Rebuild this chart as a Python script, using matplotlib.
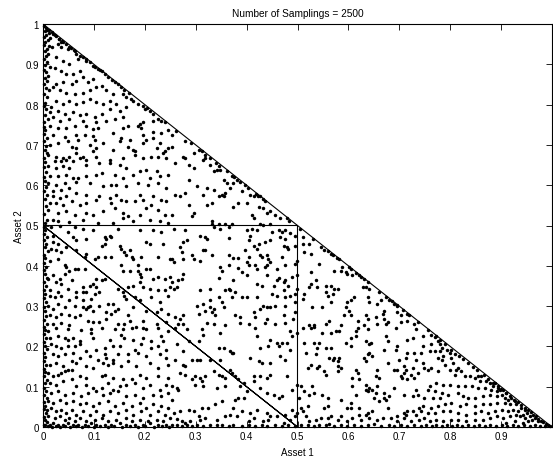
import matplotlib
matplotlib.use('Agg')
import matplotlib.pyplot as plt
import numpy as np

plt.rcParams.update({
    'font.family': ['Liberation Sans', 'DejaVu Sans'],
    'font.size': 7, 'axes.titlesize': 7.3, 'axes.labelsize': 7,
    'xtick.labelsize': 7, 'ytick.labelsize': 7,
})

# sampled weights (Asset 1, Asset 2), estimated from the picture region by region
pts_top = [
    (0.020,0.975),(0.025,0.971),(0.032,0.963),(0.040,0.955),(0.046,0.950),(0.035,0.955),(0.029,0.950),(0.018,0.942),
    (0.036,0.942),(0.049,0.938),(0.055,0.941),(0.062,0.934),(0.065,0.926),(0.072,0.921),(0.079,0.917),(0.069,0.913),
    (0.085,0.909),(0.092,0.905),(0.098,0.897),(0.102,0.893),(0.108,0.889),(0.115,0.884),(0.121,0.876),(0.128,0.868),
    (0.136,0.861),(0.141,0.855),(0.147,0.851),(0.154,0.843),(0.160,0.835),(0.157,0.826),(0.164,0.818),(0.172,0.814),
    (0.177,0.810),(0.187,0.801),(0.196,0.797),(0.200,0.789),(0.210,0.785),(0.216,0.777),(0.226,0.764),(0.232,0.760),
    (0.216,0.760),(0.196,0.756),(0.190,0.752),(0.026,0.917),(0.039,0.909),(0.052,0.901),(0.023,0.892),(0.036,0.884),
    (0.046,0.876),(0.059,0.876),(0.072,0.884),(0.079,0.868),(0.065,0.859),(0.056,0.851),(0.039,0.855),(0.026,0.851),
    (0.020,0.843),(0.033,0.835),(0.046,0.830),(0.062,0.826),(0.079,0.830),(0.092,0.835),(0.105,0.843),(0.115,0.847),
    (0.088,0.855),(0.098,0.864),(0.124,0.835),(0.138,0.826),(0.131,0.810),(0.118,0.801),(0.105,0.806),(0.092,0.814),
    (0.079,0.806),(0.065,0.801),(0.052,0.810),(0.039,0.801),(0.026,0.810),(0.016,0.793),(0.029,0.785),(0.043,0.777),
    (0.059,0.781),(0.072,0.773),(0.085,0.777),(0.102,0.768),(0.115,0.777),(0.131,0.789),(0.144,0.801),(0.151,0.785),
    (0.164,0.793),(0.157,0.768),(0.141,0.764),(0.124,0.760),(0.105,0.756),(0.079,0.760),(0.052,0.764),(0.033,0.760),
    (0.020,0.768),(0.013,0.781),
    (0.002,0.995),(0.005,0.990),(0.008,0.985),(0.003,0.982),(0.011,0.978),(0.006,0.972),(0.002,0.968),(0.014,0.965),
    (0.009,0.960),(0.004,0.955),(0.001,0.948),(0.012,0.945),(0.007,0.938),(0.003,0.932),(0.010,0.926),(0.005,0.920),
    (0.001,0.913),(0.008,0.906),(0.004,0.898),(0.013,0.893),(0.002,0.887),(0.006,0.880),(0.010,0.872),(0.003,0.866),
    (0.007,0.858),(0.001,0.850),(0.005,0.842),(0.011,0.835),(0.002,0.826),(0.008,0.818),(0.004,0.805),(0.001,0.797),
    (0.006,0.788),(0.003,0.775),(0.009,0.765),(0.002,0.756),(0.012,0.986),(0.018,0.980),(0.024,0.972),(0.031,0.962),
    (0.038,0.958),(0.052,0.944),(0.060,0.936),(0.085,0.912),(0.112,0.885),(0.168,0.828),(0.205,0.792),(0.240,0.758),
]

pts_upper_left = [
    (0.013,0.746),(0.029,0.743),(0.046,0.742),(0.062,0.746),(0.085,0.748),(0.098,0.740),(0.108,0.743),(0.138,0.729),
    (0.157,0.742),(0.167,0.748),(0.187,0.748),(0.193,0.742),(0.216,0.733),(0.232,0.729),(0.246,0.738),(0.020,0.725),
    (0.043,0.719),(0.065,0.725),(0.069,0.713),(0.082,0.725),(0.098,0.721),(0.102,0.713),(0.154,0.717),(0.170,0.713),
    (0.196,0.725),(0.203,0.713),(0.216,0.717),(0.229,0.705),(0.013,0.700),(0.029,0.705),(0.049,0.709),(0.056,0.696),
    (0.065,0.692),(0.092,0.700),(0.105,0.692),(0.118,0.705),(0.138,0.688),(0.151,0.709),(0.167,0.696),(0.177,0.688),
    (0.196,0.705),(0.223,0.692),(0.246,0.692),(0.239,0.684),(0.010,0.676),(0.026,0.671),(0.039,0.667),(0.052,0.671),
    (0.065,0.680),(0.079,0.671),(0.098,0.684),(0.105,0.671),(0.131,0.663),(0.157,0.667),(0.180,0.684),(0.180,0.676),
    (0.196,0.667),(0.213,0.671),(0.226,0.671),(0.236,0.680),(0.242,0.667),(0.023,0.659),(0.036,0.659),(0.046,0.663),
    (0.059,0.659),(0.072,0.667),(0.085,0.663),(0.010,0.647),(0.026,0.642),(0.039,0.647),(0.052,0.642),(0.085,0.651),
    (0.111,0.655),(0.131,0.655),(0.151,0.651),(0.164,0.642),(0.190,0.634),(0.203,0.638),(0.223,0.634),(0.246,0.626),
    (0.013,0.622),(0.029,0.622),(0.046,0.626),(0.059,0.618),(0.069,0.618),(0.085,0.622),(0.105,0.626),(0.115,0.630),
    (0.141,0.626),(0.157,0.618),(0.177,0.626),(0.210,0.618),(0.229,0.622),(0.010,0.605),(0.026,0.601),(0.043,0.605),
    (0.065,0.609),(0.092,0.605),(0.118,0.597),(0.134,0.601),(0.144,0.601),(0.164,0.597),(0.187,0.605),(0.206,0.601),
    (0.226,0.605),(0.242,0.593),(0.020,0.585),(0.036,0.589),(0.052,0.593),(0.007,0.576),(0.020,0.572),(0.033,0.568),
    (0.046,0.572),(0.065,0.580),(0.085,0.576),(0.111,0.572),(0.131,0.568),(0.144,0.576),(0.164,0.560),(0.190,0.576),
    (0.216,0.572),(0.232,0.564),(0.013,0.556),(0.026,0.556),(0.039,0.552),(0.056,0.560),(0.072,0.552),(0.085,0.556),
    (0.105,0.564),(0.134,0.556),(0.154,0.564),(0.180,0.560),(0.196,0.564),(0.213,0.552),(0.242,0.560),(0.010,0.539),
    (0.029,0.531),(0.046,0.535),(0.062,0.527),(0.085,0.531),(0.098,0.527),(0.118,0.535),(0.141,0.543),(0.157,0.531),
    (0.167,0.523),(0.190,0.527),(0.203,0.543),(0.226,0.539),(0.239,0.527),(0.007,0.514),(0.020,0.514),(0.029,0.510),
    (0.052,0.508),(0.079,0.514),(0.108,0.506),(0.138,0.506),(0.157,0.518),(0.177,0.510),(0.210,0.514),(0.229,0.510),
    (0.246,0.506),
    (0.001,0.745),(0.004,0.736),(0.002,0.727),(0.007,0.718),(0.001,0.709),(0.005,0.698),(0.003,0.688),(0.008,0.680),
    (0.001,0.668),(0.004,0.657),(0.002,0.645),(0.006,0.633),(0.001,0.620),(0.003,0.610),(0.005,0.596),(0.001,0.585),
    (0.003,0.565),(0.006,0.548),(0.002,0.528),(0.004,0.507),
]

pts_upper_mid = [
    (0.253,0.725),(0.253,0.696),(0.260,0.655),(0.279,0.709),(0.296,0.680),(0.307,0.688),(0.312,0.684),(0.276,0.671),
    (0.279,0.667),(0.315,0.663),(0.319,0.667),(0.329,0.667),(0.286,0.651),(0.296,0.642),(0.329,0.651),(0.340,0.655),
    (0.335,0.634),(0.342,0.638),(0.348,0.638),(0.345,0.647),(0.361,0.634),(0.376,0.620),(0.382,0.614),(0.371,0.622),
    (0.355,0.614),(0.361,0.605),(0.374,0.605),(0.368,0.593),(0.388,0.609),(0.397,0.601),(0.402,0.594),(0.286,0.614),
    (0.302,0.597),(0.322,0.593),(0.335,0.589),(0.260,0.576),(0.270,0.572),(0.279,0.580),(0.315,0.576),(0.345,0.572),
    (0.352,0.576),(0.358,0.580),(0.355,0.572),(0.391,0.585),(0.407,0.576),(0.414,0.572),(0.418,0.578),(0.422,0.574),
    (0.427,0.572),(0.432,0.565),(0.437,0.560),(0.384,0.556),(0.374,0.547),(0.401,0.556),(0.332,0.556),(0.322,0.552),
    (0.286,0.552),(0.296,0.531),(0.293,0.523),(0.253,0.527),(0.410,0.527),(0.414,0.518),(0.424,0.547),(0.433,0.543),
    (0.440,0.531),(0.446,0.535),(0.456,0.527),(0.466,0.518),(0.479,0.518),(0.484,0.512),(0.332,0.510),(0.332,0.504),
    (0.345,0.503),(0.358,0.503),(0.371,0.503),(0.427,0.503),(0.433,0.502),(0.446,0.503),(0.262,0.734),(0.290,0.705),
    (0.318,0.676),
]

pts_mid_left = [
    (0.016,0.496),(0.033,0.498),(0.062,0.496),(0.079,0.492),(0.098,0.488),(0.147,0.492),(0.190,0.488),(0.216,0.488),
    (0.232,0.483),(0.020,0.475),(0.049,0.483),(0.059,0.471),(0.065,0.463),(0.085,0.467),(0.121,0.471),(0.124,0.467),
    (0.131,0.475),(0.134,0.471),(0.115,0.450),(0.121,0.455),(0.151,0.450),(0.154,0.442),(0.160,0.434),(0.170,0.438),
    (0.203,0.459),(0.210,0.455),(0.236,0.455),(0.020,0.459),(0.029,0.455),(0.016,0.442),(0.026,0.438),(0.036,0.434),
    (0.046,0.446),(0.065,0.438),(0.082,0.421),(0.085,0.430),(0.102,0.417),(0.108,0.421),(0.121,0.421),(0.134,0.421),
    (0.164,0.426),(0.174,0.421),(0.177,0.417),(0.193,0.421),(0.226,0.421),(0.249,0.417),(0.013,0.413),(0.029,0.417),
    (0.043,0.401),(0.052,0.388),(0.062,0.392),(0.069,0.392),(0.082,0.392),(0.043,0.380),(0.046,0.397),(0.105,0.368),
    (0.121,0.368),(0.115,0.364),(0.098,0.355),(0.154,0.401),(0.157,0.388),(0.170,0.388),(0.187,0.401),(0.187,0.388),
    (0.203,0.392),(0.210,0.392),(0.190,0.380),(0.193,0.372),(0.190,0.359),(0.216,0.368),(0.226,0.372),(0.239,0.368),
    (0.249,0.372),(0.010,0.368),(0.020,0.376),(0.033,0.368),(0.026,0.359),(0.036,0.355),(0.056,0.364),(0.079,0.347),
    (0.092,0.351),(0.105,0.347),(0.013,0.339),(0.029,0.335),(0.049,0.343),(0.065,0.335),(0.079,0.335),(0.085,0.335),
    (0.102,0.330),(0.111,0.335),(0.147,0.343),(0.157,0.335),(0.167,0.347),(0.177,0.351),(0.196,0.347),(0.210,0.343),
    (0.226,0.339),(0.239,0.339),(0.249,0.347),(0.013,0.326),(0.023,0.322),(0.036,0.326),(0.052,0.314),(0.065,0.322),
    (0.079,0.314),(0.092,0.301),(0.095,0.318),(0.111,0.301),(0.128,0.306),(0.138,0.306),(0.147,0.293),(0.160,0.326),
    (0.164,0.318),(0.180,0.322),(0.190,0.314),(0.213,0.322),(0.229,0.310),(0.246,0.326),(0.010,0.301),(0.020,0.293),
    (0.029,0.306),(0.043,0.297),(0.062,0.301),(0.079,0.297),(0.085,0.293),(0.088,0.297),(0.098,0.289),(0.124,0.285),
    (0.134,0.281),(0.141,0.289),(0.167,0.277),(0.177,0.297),(0.203,0.289),(0.223,0.285),(0.232,0.293),(0.246,0.281),
    (0.013,0.277),(0.026,0.273),(0.036,0.281),(0.052,0.277),(0.062,0.273),(0.072,0.277),(0.088,0.264),(0.098,0.260),
    (0.111,0.260),(0.124,0.268),(0.147,0.256),(0.160,0.256),(0.170,0.264),(0.196,0.264),(0.223,0.256),(0.242,0.260),
    (0.020,0.256),(0.036,0.258),(0.052,0.254),
    (0.001,0.497),(0.004,0.489),(0.002,0.480),(0.007,0.472),(0.001,0.463),(0.005,0.455),(0.003,0.446),(0.009,0.437),
    (0.001,0.428),(0.004,0.419),(0.002,0.408),(0.006,0.398),(0.001,0.389),(0.003,0.380),(0.008,0.370),(0.002,0.360),
    (0.005,0.350),(0.001,0.341),(0.004,0.331),(0.002,0.320),(0.006,0.310),(0.001,0.298),(0.003,0.287),(0.005,0.275),
    (0.002,0.265),(0.007,0.255),
]

pts_mid_center = [
    (0.257,0.492),(0.279,0.490),(0.335,0.496),(0.348,0.492),(0.365,0.496),(0.401,0.490),(0.410,0.492),(0.420,0.488),
    (0.450,0.483),(0.463,0.488),(0.469,0.483),(0.476,0.488),(0.486,0.482),(0.496,0.475),(0.276,0.459),(0.283,0.463),
    (0.270,0.446),(0.273,0.435),(0.309,0.475),(0.319,0.471),(0.322,0.467),(0.365,0.469),(0.407,0.475),(0.404,0.463),
    (0.414,0.450),(0.424,0.455),(0.420,0.442),(0.437,0.459),(0.446,0.463),(0.466,0.471),(0.476,0.467),(0.473,0.450),
    (0.479,0.446),(0.482,0.442),(0.496,0.450),(0.319,0.438),(0.315,0.440),(0.332,0.427),(0.293,0.426),(0.296,0.417),
    (0.309,0.413),(0.276,0.417),(0.253,0.417),(0.257,0.409),(0.365,0.426),(0.374,0.420),(0.384,0.420),(0.397,0.440),
    (0.404,0.421),(0.427,0.426),(0.430,0.421),(0.440,0.426),(0.443,0.417),(0.446,0.409),(0.469,0.421),(0.499,0.413),
    (0.401,0.409),(0.404,0.401),(0.365,0.401),(0.384,0.394),(0.348,0.397),(0.352,0.388),(0.417,0.401),(0.420,0.392),
    (0.437,0.397),(0.440,0.401),(0.460,0.392),(0.476,0.401),(0.496,0.405),(0.276,0.380),(0.273,0.368),(0.266,0.364),
    (0.253,0.359),(0.345,0.369),(0.374,0.364),(0.391,0.384),(0.401,0.376),(0.440,0.376),(0.460,0.364),(0.463,0.369),
    (0.476,0.364),(0.473,0.359),(0.489,0.372),(0.499,0.376),(0.257,0.343),(0.263,0.347),(0.329,0.343),(0.309,0.339),
    (0.358,0.339),(0.365,0.343),(0.368,0.339),(0.378,0.335),(0.420,0.355),(0.430,0.351),(0.453,0.351),(0.473,0.339),
    (0.482,0.351),(0.499,0.343),(0.345,0.322),(0.329,0.314),(0.371,0.322),(0.391,0.322),(0.401,0.322),(0.420,0.322),
    (0.450,0.330),(0.460,0.326),(0.476,0.322),(0.486,0.326),(0.496,0.330),(0.315,0.306),(0.302,0.301),(0.329,0.297),
    (0.335,0.293),(0.352,0.310),(0.355,0.297),(0.433,0.301),(0.440,0.297),(0.446,0.297),(0.456,0.301),(0.476,0.301),
    (0.427,0.293),(0.496,0.310),(0.260,0.273),(0.276,0.277),(0.270,0.268),(0.306,0.281),(0.319,0.289),(0.332,0.285),
    (0.338,0.277),(0.388,0.273),(0.378,0.277),(0.414,0.285),(0.417,0.273),(0.440,0.268),(0.473,0.277),(0.496,0.285),
    (0.492,0.268),(0.266,0.256),(0.276,0.256),(0.322,0.258),(0.335,0.256),(0.358,0.254),(0.388,0.258),(0.404,0.256),
    (0.437,0.258),(0.456,0.256),(0.476,0.258),
]

pts_mid_right = [
    (0.510,0.471),(0.510,0.455),(0.513,0.434),(0.523,0.455),(0.526,0.430),(0.546,0.446),(0.552,0.438),(0.565,0.430),
    (0.570,0.427),(0.577,0.419),(0.582,0.417),(0.543,0.405),(0.572,0.388),(0.585,0.388),(0.588,0.397),(0.595,0.384),
    (0.602,0.397),(0.605,0.392),(0.598,0.380),(0.608,0.376),(0.621,0.376),(0.625,0.372),(0.631,0.368),(0.634,0.347),
    (0.641,0.343),(0.628,0.347),(0.638,0.359),(0.526,0.384),(0.536,0.364),(0.526,0.355),(0.523,0.347),(0.539,0.347),
    (0.556,0.351),(0.565,0.351),(0.572,0.343),(0.579,0.343),(0.569,0.330),(0.559,0.326),(0.556,0.335),(0.513,0.330),
    (0.510,0.318),(0.529,0.297),(0.549,0.297),(0.565,0.310),(0.598,0.310),(0.605,0.314),(0.611,0.322),(0.595,0.297),
    (0.602,0.289),(0.592,0.277),(0.605,0.277),(0.638,0.322),(0.641,0.310),(0.657,0.306),(0.664,0.314),(0.674,0.322),
    (0.680,0.314),(0.685,0.312),(0.690,0.306),(0.696,0.301),(0.707,0.290),(0.716,0.281),(0.720,0.277),(0.703,0.277),
    (0.696,0.285),(0.670,0.289),(0.667,0.281),(0.654,0.273),(0.670,0.268),(0.677,0.260),(0.634,0.277),(0.638,0.268),
    (0.618,0.264),(0.562,0.264),(0.556,0.256),(0.523,0.254),(0.657,0.256),(0.674,0.256),(0.703,0.260),(0.716,0.264),
    (0.729,0.256),(0.736,0.260),(0.533,0.254),(0.585,0.254),(0.631,0.254),(0.505,0.492),(0.530,0.466),(0.560,0.437),
    (0.615,0.382),(0.660,0.335),(0.695,0.302),
]

pts_low_left = [
    (0.010,0.238),(0.026,0.246),(0.049,0.242),(0.075,0.240),(0.095,0.243),(0.115,0.246),(0.141,0.243),(0.157,0.242),
    (0.174,0.246),(0.183,0.248),(0.196,0.246),(0.203,0.242),(0.226,0.246),(0.246,0.238),(0.013,0.221),(0.029,0.225),
    (0.043,0.221),(0.049,0.217),(0.059,0.221),(0.072,0.213),(0.095,0.233),(0.098,0.221),(0.131,0.217),(0.154,0.229),
    (0.160,0.221),(0.177,0.217),(0.196,0.221),(0.213,0.213),(0.232,0.225),(0.236,0.213),(0.016,0.205),(0.026,0.200),
    (0.036,0.196),(0.049,0.200),(0.062,0.200),(0.072,0.205),(0.085,0.188),(0.105,0.192),(0.121,0.196),(0.138,0.200),
    (0.151,0.200),(0.180,0.192),(0.193,0.205),(0.213,0.196),(0.226,0.200),(0.242,0.192),(0.020,0.180),(0.029,0.176),
    (0.043,0.180),(0.059,0.184),(0.072,0.171),(0.092,0.176),(0.108,0.167),(0.121,0.180),(0.124,0.171),(0.138,0.167),
    (0.147,0.180),(0.167,0.180),(0.187,0.184),(0.203,0.176),(0.229,0.180),(0.242,0.171),(0.013,0.155),(0.026,0.159),
    (0.039,0.151),(0.056,0.163),(0.065,0.159),(0.085,0.151),(0.098,0.147),(0.118,0.159),(0.128,0.155),(0.138,0.159),
    (0.154,0.151),(0.167,0.163),(0.183,0.151),(0.210,0.159),(0.226,0.147),(0.246,0.155),(0.010,0.134),(0.020,0.126),
    (0.029,0.130),(0.036,0.134),(0.043,0.138),(0.049,0.142),(0.056,0.142),(0.072,0.126),(0.085,0.122),(0.115,0.126),
    (0.121,0.128),(0.138,0.122),(0.157,0.118),(0.174,0.118),(0.190,0.130),(0.203,0.122),(0.226,0.126),(0.246,0.122),
    (0.013,0.109),(0.026,0.105),(0.039,0.114),(0.056,0.118),(0.065,0.101),(0.085,0.105),(0.098,0.097),(0.115,0.097),
    (0.128,0.109),(0.138,0.093),(0.151,0.101),(0.164,0.105),(0.180,0.109),(0.196,0.097),(0.210,0.105),(0.229,0.093),
    (0.242,0.105),(0.016,0.085),(0.029,0.089),(0.043,0.080),(0.059,0.085),(0.075,0.076),(0.088,0.085),(0.105,0.089),
    (0.118,0.080),(0.131,0.085),(0.147,0.089),(0.164,0.076),(0.180,0.080),(0.196,0.072),(0.216,0.080),(0.232,0.076),
    (0.246,0.085),(0.010,0.064),(0.020,0.060),(0.033,0.068),(0.046,0.060),(0.059,0.064),(0.072,0.056),(0.085,0.060),
    (0.098,0.051),(0.111,0.060),(0.128,0.064),(0.141,0.051),(0.157,0.060),(0.174,0.051),(0.190,0.060),(0.203,0.047),
    (0.216,0.056),(0.232,0.051),(0.246,0.047),(0.007,0.043),(0.016,0.047),(0.026,0.039),(0.036,0.043),(0.046,0.035),
    (0.056,0.043),(0.065,0.031),(0.079,0.039),(0.092,0.031),(0.105,0.039),(0.118,0.031),(0.131,0.039),(0.147,0.035),
    (0.164,0.043),(0.177,0.031),(0.193,0.039),(0.210,0.031),(0.226,0.039),(0.239,0.031),(0.010,0.027),(0.023,0.023),
    (0.033,0.027),(0.043,0.018),(0.052,0.023),(0.062,0.014),(0.072,0.023),(0.085,0.014),(0.102,0.018),(0.115,0.023),
    (0.128,0.014),(0.144,0.018),(0.164,0.023),(0.174,0.014),(0.190,0.018),(0.206,0.014),(0.223,0.018),(0.236,0.014),
    (0.249,0.023),(0.003,0.006),(0.013,0.004),(0.020,0.010),(0.029,0.004),(0.039,0.006),(0.049,0.010),(0.059,0.004),
    (0.069,0.006),(0.082,0.004),(0.095,0.010),(0.105,0.004),(0.121,0.006),(0.134,0.004),(0.151,0.010),(0.164,0.004),
    (0.180,0.006),(0.196,0.004),(0.210,0.010),(0.226,0.004),(0.242,0.006),
    (0.001,0.248),(0.004,0.240),(0.002,0.230),(0.006,0.221),(0.001,0.212),(0.003,0.202),(0.007,0.193),(0.002,0.183),
    (0.004,0.174),(0.001,0.164),(0.006,0.155),(0.002,0.145),(0.004,0.136),(0.001,0.126),(0.008,0.117),(0.003,0.108),
    (0.001,0.098),(0.005,0.089),(0.002,0.080),(0.007,0.071),(0.001,0.062),(0.004,0.053),(0.002,0.044),(0.005,0.035),
    (0.001,0.026),(0.003,0.017),(0.008,0.012),(0.001,0.004),(0.009,0.002),(0.017,0.001),(0.025,0.003),(0.034,0.001),
    (0.044,0.002),(0.054,0.001),(0.064,0.002),(0.077,0.001),(0.088,0.002),(0.100,0.001),(0.112,0.002),(0.127,0.001),
    (0.140,0.002),(0.156,0.001),(0.170,0.002),(0.186,0.001),(0.200,0.002),(0.218,0.001),(0.233,0.002),(0.247,0.001),
]

pts_low_center = [
    (0.260,0.246),(0.283,0.242),(0.312,0.242),(0.315,0.229),(0.348,0.233),(0.417,0.246),(0.420,0.225),(0.446,0.217),
    (0.460,0.209),(0.469,0.209),(0.479,0.209),(0.486,0.238),(0.489,0.225),(0.499,0.233),(0.263,0.205),(0.286,0.213),
    (0.306,0.213),(0.345,0.196),(0.355,0.196),(0.368,0.188),(0.374,0.184),(0.427,0.196),(0.443,0.200),(0.463,0.200),
    (0.486,0.192),(0.260,0.167),(0.276,0.188),(0.276,0.155),(0.279,0.151),(0.293,0.167),(0.302,0.167),(0.309,0.167),
    (0.329,0.167),(0.348,0.167),(0.371,0.184),(0.407,0.171),(0.424,0.163),(0.430,0.159),(0.446,0.159),(0.466,0.176),
    (0.476,0.167),(0.270,0.134),(0.279,0.130),(0.293,0.118),(0.299,0.126),(0.309,0.122),(0.312,0.114),(0.319,0.126),
    (0.335,0.138),(0.345,0.130),(0.352,0.126),(0.358,0.122),(0.368,0.142),(0.371,0.134),(0.378,0.126),(0.384,0.118),
    (0.394,0.109),(0.414,0.126),(0.414,0.114),(0.427,0.126),(0.440,0.122),(0.446,0.130),(0.479,0.126),(0.253,0.101),
    (0.263,0.097),(0.266,0.093),(0.299,0.105),(0.315,0.101),(0.342,0.097),(0.358,0.101),(0.388,0.101),(0.401,0.089),
    (0.427,0.097),(0.440,0.085),(0.453,0.080),(0.463,0.072),(0.469,0.076),(0.489,0.093),(0.499,0.105),(0.253,0.068),
    (0.270,0.039),(0.257,0.035),(0.286,0.043),(0.296,0.039),(0.312,0.047),(0.325,0.047),(0.338,0.056),(0.352,0.064),
    (0.378,0.068),(0.384,0.072),(0.394,0.072),(0.374,0.047),(0.391,0.039),(0.407,0.035),(0.420,0.043),(0.440,0.035),
    (0.446,0.027),(0.460,0.027),(0.476,0.031),(0.489,0.043),(0.499,0.035),(0.263,0.020),(0.273,0.014),(0.279,0.010),
    (0.289,0.014),(0.306,0.027),(0.309,0.018),(0.319,0.023),(0.342,0.018),(0.358,0.027),(0.368,0.031),(0.381,0.028),
    (0.404,0.014),(0.414,0.023),(0.433,0.014),(0.443,0.018),(0.473,0.010),(0.486,0.018),(0.496,0.027),(0.253,0.004),
    (0.263,0.005),(0.273,0.003),(0.283,0.004),(0.293,0.003),(0.302,0.005),(0.315,0.003),(0.329,0.004),(0.342,0.004),
    (0.352,0.005),(0.365,0.003),(0.374,0.004),(0.391,0.003),(0.404,0.004),(0.417,0.003),(0.430,0.004),(0.440,0.003),
    (0.456,0.005),(0.469,0.003),(0.482,0.004),(0.496,0.003),
]

pts_low_right = [
    (0.510,0.246),(0.526,0.246),(0.533,0.248),(0.549,0.233),(0.565,0.233),(0.575,0.238),(0.582,0.238),(0.615,0.238),
    (0.618,0.246),(0.638,0.242),(0.674,0.225),(0.677,0.213),(0.693,0.246),(0.716,0.217),(0.726,0.221),(0.732,0.242),
    (0.746,0.225),(0.513,0.209),(0.533,0.209),(0.539,0.196),(0.543,0.209),(0.556,0.196),(0.565,0.196),(0.595,0.209),
    (0.605,0.221),(0.605,0.200),(0.615,0.225),(0.634,0.213),(0.641,0.205),(0.644,0.209),(0.670,0.192),(0.693,0.192),
    (0.696,0.200),(0.716,0.184),(0.729,0.184),(0.742,0.184),(0.746,0.200),(0.516,0.184),(0.536,0.180),(0.562,0.171),
    (0.572,0.171),(0.579,0.163),(0.582,0.171),(0.579,0.151),(0.569,0.167),(0.631,0.171),(0.634,0.163),(0.638,0.180),
    (0.641,0.184),(0.647,0.176),(0.677,0.159),(0.700,0.167),(0.713,0.171),(0.732,0.167),(0.746,0.159),(0.526,0.155),
    (0.520,0.147),(0.543,0.151),(0.539,0.147),(0.556,0.130),(0.552,0.138),(0.579,0.138),(0.585,0.147),(0.615,0.142),
    (0.618,0.134),(0.608,0.122),(0.621,0.118),(0.654,0.126),(0.657,0.142),(0.660,0.122),(0.690,0.142),(0.710,0.151),
    (0.713,0.142),(0.710,0.134),(0.726,0.147),(0.723,0.130),(0.736,0.134),(0.749,0.147),(0.729,0.122),(0.716,0.118),
    (0.706,0.122),(0.703,0.126),(0.696,0.142),(0.507,0.101),(0.513,0.089),(0.529,0.101),(0.533,0.085),(0.523,0.080),
    (0.503,0.072),(0.549,0.080),(0.559,0.072),(0.585,0.068),(0.615,0.080),(0.608,0.101),(0.634,0.105),(0.634,0.093),
    (0.638,0.089),(0.641,0.097),(0.647,0.093),(0.654,0.085),(0.651,0.072),(0.660,0.064),(0.670,0.072),(0.680,0.076),
    (0.674,0.068),(0.657,0.101),(0.670,0.085),(0.690,0.097),(0.710,0.080),(0.726,0.076),(0.732,0.093),(0.736,0.080),
    (0.749,0.072),(0.746,0.051),(0.507,0.047),(0.520,0.051),(0.510,0.039),(0.552,0.047),(0.559,0.051),(0.605,0.060),
    (0.598,0.047),(0.605,0.047),(0.608,0.023),(0.621,0.031),(0.634,0.031),(0.621,0.047),(0.638,0.035),(0.647,0.039),
    (0.677,0.047),(0.696,0.027),(0.710,0.035),(0.716,0.039),(0.713,0.031),(0.726,0.039),(0.732,0.031),(0.742,0.039),
    (0.739,0.047),(0.516,0.027),(0.523,0.014),(0.536,0.018),(0.546,0.023),(0.559,0.023),(0.565,0.027),(0.579,0.018),
    (0.585,0.027),(0.598,0.014),(0.624,0.018),(0.641,0.023),(0.657,0.018),(0.667,0.023),(0.683,0.023),(0.696,0.014),
    (0.710,0.023),(0.723,0.014),(0.739,0.018),(0.749,0.023),(0.507,0.004),(0.520,0.005),(0.533,0.003),(0.543,0.004),
    (0.556,0.004),(0.562,0.007),(0.572,0.003),(0.585,0.004),(0.598,0.003),(0.611,0.005),(0.624,0.003),(0.638,0.004),
    (0.651,0.007),(0.664,0.003),(0.680,0.004),(0.690,0.003),(0.703,0.005),(0.716,0.003),(0.729,0.004),(0.742,0.003),
]

pts_corner = [
    (0.756,0.240),(0.763,0.229),(0.773,0.225),(0.779,0.217),(0.776,0.213),(0.763,0.205),(0.779,0.205),(0.783,0.196),
    (0.760,0.188),(0.770,0.188),(0.779,0.188),(0.793,0.192),(0.799,0.184),(0.809,0.180),(0.786,0.176),(0.776,0.171),
    (0.783,0.167),(0.802,0.171),(0.806,0.159),(0.789,0.155),(0.763,0.147),(0.757,0.142),(0.776,0.138),(0.799,0.142),
    (0.812,0.142),(0.822,0.138),(0.809,0.130),(0.815,0.147),(0.829,0.126),(0.838,0.126),(0.848,0.122),(0.855,0.126),
    (0.861,0.126),(0.858,0.114),(0.871,0.114),(0.878,0.109),(0.888,0.109),(0.884,0.101),(0.894,0.097),(0.897,0.093),
    (0.904,0.093),(0.891,0.089),(0.881,0.093),(0.868,0.097),(0.855,0.097),(0.842,0.101),(0.829,0.101),(0.815,0.101),
    (0.799,0.105),(0.786,0.105),(0.773,0.109),(0.760,0.101),(0.757,0.093),(0.770,0.089),(0.783,0.085),(0.766,0.072),
    (0.779,0.072),(0.796,0.080),(0.815,0.085),(0.825,0.076),(0.835,0.072),(0.848,0.072),(0.865,0.076),(0.878,0.080),
    (0.891,0.076),(0.901,0.080),(0.910,0.085),(0.907,0.072),(0.914,0.068),(0.920,0.072),(0.927,0.064),(0.930,0.056),
    (0.917,0.056),(0.907,0.060),(0.891,0.060),(0.878,0.056),(0.865,0.056),(0.848,0.051),(0.832,0.056),(0.819,0.051),
    (0.802,0.060),(0.789,0.056),(0.776,0.051),(0.763,0.047),(0.757,0.035),(0.770,0.035),(0.786,0.039),(0.799,0.039),
    (0.815,0.035),(0.832,0.031),(0.848,0.035),(0.861,0.039),(0.874,0.035),(0.888,0.039),(0.901,0.043),(0.914,0.039),
    (0.924,0.043),(0.933,0.039),(0.940,0.047),(0.946,0.043),(0.950,0.035),(0.943,0.031),(0.937,0.027),(0.930,0.031),
    (0.917,0.027),(0.904,0.023),(0.891,0.027),(0.878,0.023),(0.865,0.018),(0.848,0.018),(0.832,0.014),(0.815,0.018),
    (0.802,0.018),(0.786,0.014),(0.773,0.018),(0.760,0.014),(0.946,0.023),(0.956,0.027),(0.960,0.018),(0.966,0.023),
    (0.973,0.014),(0.953,0.014),(0.943,0.010),(0.927,0.014),(0.910,0.010),
    (0.770,0.224),(0.790,0.205),(0.802,0.192),(0.818,0.176),(0.826,0.168),(0.835,0.160),(0.845,0.148),(0.852,0.142),
    (0.866,0.128),(0.875,0.118),(0.884,0.110),(0.893,0.102),(0.900,0.094),(0.910,0.084),(0.918,0.076),(0.925,0.068),
    (0.933,0.062),(0.940,0.055),(0.947,0.048),(0.953,0.042),(0.958,0.036),(0.963,0.031),(0.968,0.027),(0.973,0.021),
    (0.978,0.016),(0.983,0.012),(0.988,0.008),(0.992,0.005),(0.996,0.002),
    (0.753,0.004),(0.764,0.002),(0.773,0.005),(0.783,0.003),(0.793,0.004),(0.803,0.002),(0.813,0.005),(0.824,0.003),
    (0.835,0.004),(0.846,0.002),(0.857,0.005),(0.868,0.003),(0.879,0.004),(0.890,0.002),(0.901,0.005),(0.912,0.003),
    (0.923,0.004),(0.934,0.002),(0.945,0.005),(0.956,0.003),(0.966,0.004),(0.977,0.002),(0.986,0.003),
]

n_samplings = 2500

# boundary of the feasible set and the inner region
simplex_x = [0, 1]
simplex_y = [1, 0]
inner_x = [0, 0.5, 0.5, 0, 0.5]
inner_y = [0.5, 0.5, 0, 0.5, 0]

xticks = [0, 0.1, 0.2, 0.3, 0.4, 0.5, 0.6, 0.7, 0.8, 0.9]
yticks = [0, 0.1, 0.2, 0.3, 0.4, 0.5, 0.6, 0.7, 0.8, 0.9, 1]

pts = np.array(pts_top + pts_upper_left + pts_upper_mid + pts_mid_left + pts_mid_center
               + pts_mid_right + pts_low_left + pts_low_center + pts_low_right + pts_corner)

fig = plt.figure(figsize=(5.53, 4.64), dpi=100)
ax = fig.add_axes([43/553, 36/464, 509/553, 403/464])

ax.plot(pts[:, 0], pts[:, 1], 'o', color='black', markersize=2.5, markeredgewidth=0, clip_on=False, zorder=3)
ax.plot(simplex_x, simplex_y, color='black', linewidth=0.8)
ax.plot(inner_x, inner_y, color='black', linewidth=0.8)

ax.set_xlim(0, 1)
ax.set_ylim(0, 1)
ax.set_xticks(xticks)
ax.set_xticklabels(['0'] + [f'{t:g}' for t in xticks[1:]])
ax.set_yticks(yticks)
ax.set_yticklabels([f'{t:g}' for t in yticks])
ax.tick_params(direction='in', top=True, right=True, length=4, width=0.6, pad=3)
for s in ax.spines.values():
    s.set_linewidth(0.8)

ax.set_xlabel('Asset 1', labelpad=4)
ax.set_ylabel('Asset 2', labelpad=1)
ax.set_title(f'Number of Samplings = {n_samplings}', pad=6)

fig.savefig('out.png', dpi=100)
